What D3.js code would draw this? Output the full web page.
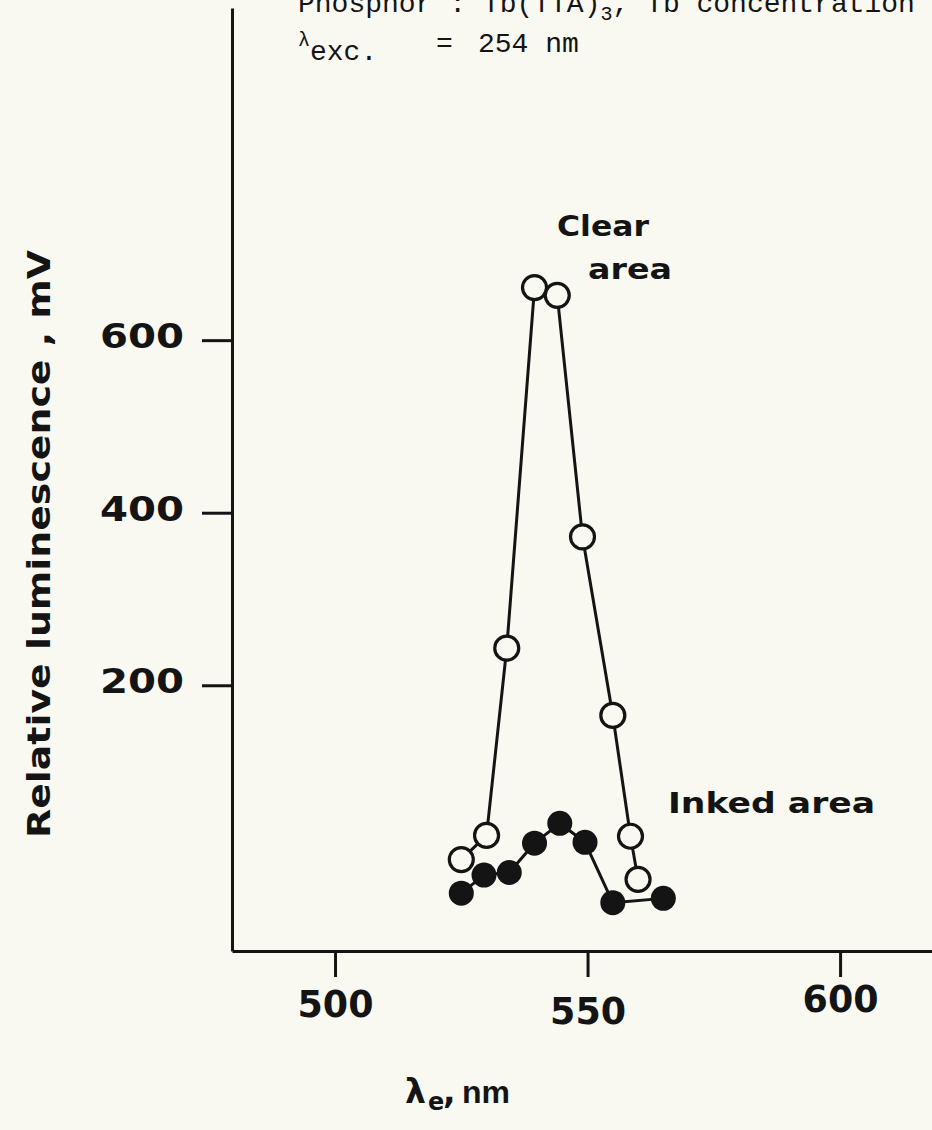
<!DOCTYPE html>
<html>
<head>
<meta charset="utf-8">
<script src="https://cdn.jsdelivr.net/npm/d3@7"></script>
<style>
  html, body { margin: 0; padding: 0; background: #f9f9f1; }
  svg { display: block; }
</style>
</head>
<body>
<div id="chart"></div>
<script>
// Emission wavelength (nm) and relative luminescence (mV) for the two areas
const clearWavelength = [525, 530, 534, 539.5, 544, 549, 555, 558.5, 560];
const clearLuminescence = [-2, 26, 243, 661, 652, 372, 165, 25, -25];
const inkedWavelength = [525, 529.5, 534.5, 539.5, 544.5, 549.5, 555, 565];
const inkedLuminescence = [-41, -20, -17, 17, 40, 18, -52, -47];

const xTickValues = [500, 550, 600];
const yTickValues = [200, 400, 600];

const W = 932, H = 1130;
const ink = "#141414";
const bg = "#f9f9f1";

const svg = d3.select("#chart").append("svg")
  .attr("width", W).attr("height", H)
  .style("background", bg);

// Scales: the plotted frame runs from the left axis to the right page edge
const x = d3.scaleLinear().domain([479.6, 618.2]).range([232, 932]);
const y = d3.scaleLinear().domain([-108, 985]).range([951, 8]);

const bold = "'DejaVu Sans', sans-serif";
const sans = "'Liberation Sans', Arial, sans-serif";
const mono = "'Liberation Mono', 'Courier New', monospace";

// Y axis
const yAxis = svg.append("g")
  .attr("transform", "translate(232,0)")
  .call(d3.axisLeft(y).tickValues(yTickValues).tickSize(30).tickPadding(18).tickSizeOuter(0));
yAxis.select(".domain").attr("stroke", ink).attr("stroke-width", 3);
yAxis.selectAll(".tick line").attr("stroke", ink).attr("stroke-width", 3);
yAxis.selectAll(".tick text")
  .attr("fill", ink)
  .attr("font-family", bold).attr("font-weight", "bold").attr("font-size", 34)
  .attr("dy", "0.22em")
  .attr("textLength", 84).attr("lengthAdjust", "spacingAndGlyphs");

// X axis (hand-lettered labels sit slightly off a common baseline)
const xLabelShift = { 500: 0, 550: 7, 600: -5 };
const xAxis = svg.append("g")
  .attr("transform", "translate(0,951)")
  .call(d3.axisBottom(x).tickValues(xTickValues).tickSize(26).tickPadding(14).tickSizeOuter(0));
xAxis.select(".domain").attr("stroke", ink).attr("stroke-width", 3);
xAxis.selectAll(".tick line").attr("stroke", ink).attr("stroke-width", 3);
xAxis.selectAll(".tick text")
  .attr("fill", ink)
  .attr("font-family", bold).attr("font-weight", "bold").attr("font-size", 37)
  .attr("transform", d => `translate(0,${xLabelShift[d] || 0})`)
  .attr("textLength", 76).attr("lengthAdjust", "spacingAndGlyphs");

// Axis titles
svg.append("text")
  .attr("transform", "translate(50,544) rotate(-90)")
  .attr("text-anchor", "middle")
  .attr("fill", ink)
  .attr("font-family", bold).attr("font-weight", "bold").attr("font-size", 32)
  .attr("textLength", 588).attr("lengthAdjust", "spacingAndGlyphs")
  .text("Relative luminescence , mV");

const xt = svg.append("text")
  .attr("y", 1103)
  .attr("fill", ink)
  .attr("font-family", bold).attr("font-weight", "bold").attr("font-size", 33);
xt.append("tspan").attr("x", 405).text("λ");
xt.append("tspan").attr("x", 428).attr("font-size", 24).attr("dy", 7).text("e");
xt.append("tspan").attr("x", 443).attr("dy", -7).text(",");
xt.append("tspan").attr("x", 462).attr("font-family", sans).attr("font-size", 32).text("nm");

// Series
const clearData = clearWavelength.map((w, i) => [w, clearLuminescence[i]]);
const inkedData = inkedWavelength.map((w, i) => [w, inkedLuminescence[i]]);
const line = d3.line().x(d => x(d[0])).y(d => y(d[1]));

svg.append("path").datum(clearData)
  .attr("d", line).attr("fill", "none")
  .attr("stroke", ink).attr("stroke-width", 3).attr("stroke-linejoin", "round");
svg.append("g").selectAll("circle").data(clearData).join("circle")
  .attr("cx", d => x(d[0])).attr("cy", d => y(d[1])).attr("r", 12)
  .attr("fill", bg).attr("stroke", ink).attr("stroke-width", 3.2);

svg.append("path").datum(inkedData)
  .attr("d", line).attr("fill", "none")
  .attr("stroke", ink).attr("stroke-width", 3).attr("stroke-linejoin", "round");
svg.append("g").selectAll("circle").data(inkedData).join("circle")
  .attr("cx", d => x(d[0])).attr("cy", d => y(d[1])).attr("r", 12.5)
  .attr("fill", ink);

// Series labels
const lbl = (txt, x0, y0, len) => svg.append("text")
  .attr("x", x0).attr("y", y0).attr("fill", ink)
  .attr("font-family", bold).attr("font-weight", "bold").attr("font-size", 28)
  .attr("textLength", len).attr("lengthAdjust", "spacingAndGlyphs")
  .text(txt);
lbl("Clear", 557, 236, 92);
lbl("area", 588, 279, 84);
lbl("Inked area", 668, 813, 207);

// Typewritten header
const h1 = svg.append("text")
  .attr("x", 298).attr("y", 12)
  .attr("fill", ink).attr("font-family", mono).attr("font-size", 28);
h1.append("tspan").text("Phosphor : Tb(TTA)");
h1.append("tspan").attr("font-size", 20).attr("dy", 8).text("3");
h1.append("tspan").attr("dy", -8).text(", Tb concentration");

const h2 = svg.append("text")
  .attr("x", 298).attr("y", 52)
  .attr("fill", ink).attr("font-family", mono).attr("font-size", 28);
h2.append("tspan").attr("font-size", 20).attr("dy", -6).text("λ");
h2.append("tspan").attr("dy", 14).text("exc.");
h2.append("tspan").attr("dy", -8).attr("x", 436).text("=");
h2.append("tspan").attr("x", 478).text("254 nm");
</script>
</body>
</html>
